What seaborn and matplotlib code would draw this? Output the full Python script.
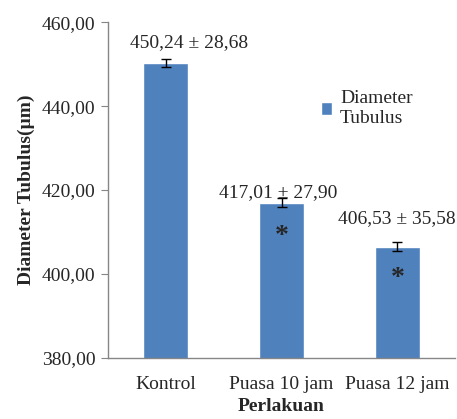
import seaborn as sns
import matplotlib.pyplot as plt
import pandas as pd

# data
categories = ['Kontrol', 'Puasa 10 jam', 'Puasa 12 jam']
means = [450.24, 417.01, 406.53]
sds = [28.68, 27.90, 35.58]
errs = [1.0, 1.0, 1.0]
signif = ['', '*', '*']
yticks = [380, 400, 420, 440, 460]

df = pd.DataFrame({'Perlakuan': categories, 'Diameter': means})

sns.set_style('white')
plt.rcParams['font.family'] = ['Liberation Serif', 'DejaVu Serif']

fig = plt.figure(figsize=(4.57, 4.19), dpi=100)
ax = fig.add_axes([0.236, 0.146, 0.76, 0.801])

bar_color = '#4F81BD'
sns.barplot(data=df, x='Perlakuan', y='Diameter', color=bar_color, width=0.39,
            saturation=1, ax=ax)
ax.errorbar(range(len(means)), means, yerr=errs, fmt='none', ecolor='black',
            elinewidth=1, capsize=3.5, capthick=1)

ax.set_ylim(380, 460)
ax.set_yticks(yticks)
ax.set_yticklabels([f'{v:.2f}'.replace('.', ',') for v in yticks], fontsize=14)
ax.set_xticks(range(len(categories)))
ax.set_xticklabels(categories, fontsize=14)
ax.set_xlim(-0.5, 2.5)

# tick marks between categories on the x axis
ax.set_xticks([-0.5, 0.5, 1.5, 2.5], minor=True)
ax.tick_params(axis='x', which='major', length=0, pad=13)
ax.tick_params(axis='x', which='minor', length=5, color='#868686', direction='out')
ax.tick_params(axis='y', length=5, color='#868686', direction='out', pad=4, left=True)

for s in ['top', 'right']:
    ax.spines[s].set_visible(False)
for s in ['left', 'bottom']:
    ax.spines[s].set_color('#868686')
    ax.spines[s].set_linewidth(1)

ax.set_xlabel('Perlakuan', fontsize=14, fontweight='bold', labelpad=4)
ax.set_ylabel('Diameter Tubulus(µm)', fontsize=14, fontweight='bold', labelpad=5)

# mean ± sd labels
label_pos = [(0.2, 455.2), (0.97, 419.4), (2.0, 413.2)]
for (x, y), m, s in zip(label_pos, means, sds):
    txt = f'{m:.2f} ± {s:.2f}'.replace('.', ',')
    ax.text(x, y, txt, ha='center', va='center', fontsize=14)

# significance markers
star_pos = [(0, 0), (1.0, 409.0), (2.0, 399.0)]
for (x, y), mark in zip(star_pos, signif):
    if mark:
        ax.text(x, y, mark, ha='center', va='center', fontsize=20, fontweight='bold')

ax.legend([ax.patches[0]], ['Diameter\nTubulus'], loc='upper left',
          bbox_to_anchor=(0.59, 0.82), frameon=False, fontsize=14,
          handlelength=0.6, handleheight=0.6, handletextpad=0.4, borderaxespad=0,
          labelspacing=0)

fig.savefig('out.png', dpi=100)
